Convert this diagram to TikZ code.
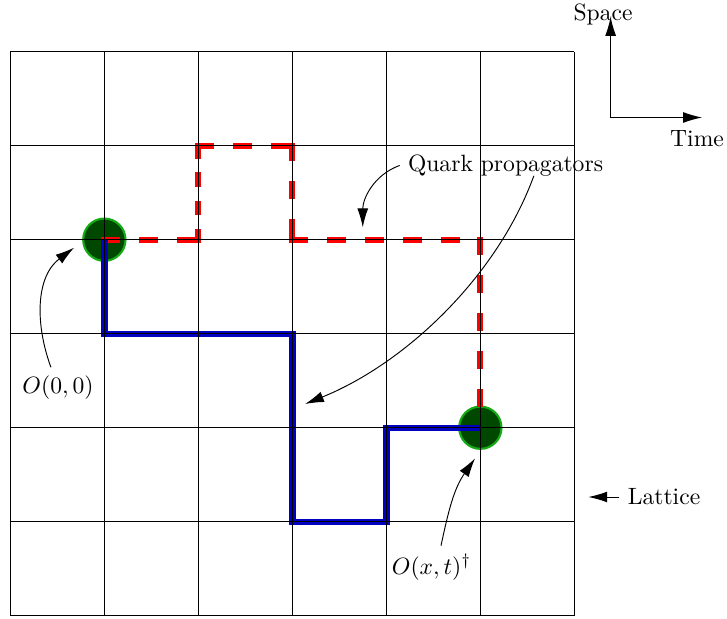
\documentclass[tikz,border=0pt]{standalone}
\usepackage{tikz}
\usepackage{xcolor}
\usetikzlibrary{arrows.meta}

\definecolor{sitefill}{RGB}{0,72,0}
\definecolor{siteedge}{RGB}{20,170,20}
\definecolor{fwdred}{RGB}{255,0,0}
\definecolor{bwdblue}{RGB}{0,0,195}

\begin{document}
\begin{tikzpicture}[x=1.4cm, y=1.4cm, >={Latex[length=8pt,width=4.6pt]},
site/.style={circle, draw=siteedge, fill=sitefill, line width=0.9pt, minimum size=0.63cm, inner sep=0pt},
fwd/.style={draw=fwdred, line width=2.6pt, line cap=rect, dash pattern=on 5.3pt off 10.8pt},
fwdshort/.style={draw=fwdred, line width=2.6pt, line cap=rect, dash pattern=on 3.4pt off 8.5pt},
bwd/.style={draw=bwdblue, line width=2.7pt}]

\useasboundingbox (-0.11,-0.025) rectangle (7.624,6.55);

\node[site] (o00) at (1,4) {};
\node[site] (oxt) at (5,2) {};

% quark lines
\draw[fwd] (o00.center) -- (2,4);
\draw[fwdshort] (2,4) -- (2,5);
\draw[fwd] (2,5) -- (3,5);
\draw[fwd] (3,5) -- (3,4);
\draw[fwd] (3,4) -- (5,4);
\draw[fwd] (5,4) -- (oxt.center);
\draw[bwd] (o00.center) -- (1,3) -- (3,3) -- (3,1) -- (4,1) -- (4,2) -- (oxt.center);

% lattice
\draw[step=1] (0,0) grid (6,6);

% axes
\coordinate (axo) at (6.386,5.30);
\coordinate (aup) at (6.386,6.37);
\coordinate (aright) at (7.358,5.30);
\node (space) at (6.305,6.40) {Space};
\node (time) at (7.305,5.08) {Time};
\draw[<->] (aup) -- (axo) -- (aright);

% labels
\node (quark) at (5.268,4.79) {Quark propagators};
\coordinate (qtip1) at (3.749,4.132);
\coordinate (qtip2) at (3.135,2.252);
\draw[->] (quark.west) to[out=200, in=90] (qtip1);
\draw[->] ([xshift=12pt,yshift=3.7pt]quark.south) to[out=250, in=22, looseness=0.85] (qtip2);

\node (lbl00) at (0.507,2.428) {$O(0,0)$};
\coordinate (tip00) at (0.678,3.915);
\draw[->] ([xshift=-3pt]lbl00.north) to[out=110, in=217] (tip00);

\node (lblxt) at (4.481,0.518) {$O(x,t)^\dagger$};
\coordinate (tipxt) at (4.944,1.674);
\draw[->] ([xshift=4pt]lblxt.north) to[out=78, in=235] (tipxt);

\node (lattice) at (6.954,1.263) {Lattice};
\coordinate (lattip) at (6.149,1.263);
\draw[->] (lattice.west) -- (lattip);

\end{tikzpicture}
\end{document}
